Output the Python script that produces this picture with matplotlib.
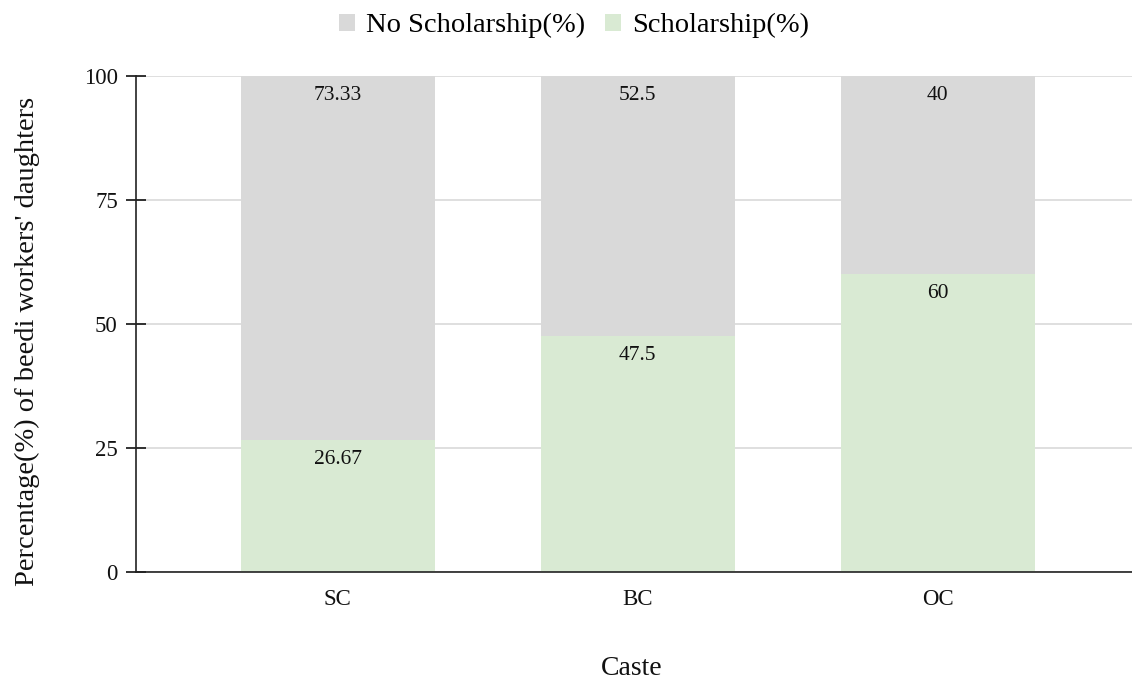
import matplotlib.pyplot as plt
import numpy as np

plt.rcParams['font.family'] = ['Liberation Serif', 'DejaVu Serif']

castes = ['SC', 'BC', 'OC']
scholarship = [26.67, 47.5, 60]
no_scholarship = [73.33, 52.5, 40]

green = '#d9ead3'
grey = '#d9d9d9'

fig = plt.figure(figsize=(11.32, 6.79), dpi=100)
ax = fig.add_axes([0.120, 0.1576, 0.880, 0.7305])

x = np.arange(len(castes))
w = 0.647
b1 = ax.bar(x, scholarship, w, color=green, label='Scholarship(%)', zorder=2)
b2 = ax.bar(x, no_scholarship, w, bottom=scholarship, color=grey,
            label='No Scholarship(%)', zorder=2)

# value labels just under the top of each segment
for bars, vals, base in [(b1, scholarship, [0] * 3), (b2, no_scholarship, scholarship)]:
    for xi, v, b in zip(x, vals, base):
        ax.annotate(f'{v:g}', (xi, b + v), xytext=(0, -14), textcoords='offset points',
                    ha='center', va='center', fontsize=15.5, color='#111111', zorder=3)

ax.set_xlim(-0.673, 2.647)
ax.set_ylim(0, 100)
ax.set_yticks([0, 25, 50, 75, 100])
ax.set_xticks(x)
ax.set_xticklabels(castes)
ax.tick_params(axis='both', labelsize=16.5, colors='#111111')
ax.tick_params(axis='y', direction='inout', length=14, width=1.2, pad=6)
ax.tick_params(axis='x', length=0, pad=12)
ax.yaxis.grid(True, color='#d9d9d9', linewidth=1.2, zorder=0)
for s in ['top', 'right']:
    ax.spines[s].set_visible(False)
ax.spines['left'].set_color('#222222')
ax.spines['bottom'].set_color('#222222')
ax.spines['left'].set_linewidth(1.2)
ax.spines['bottom'].set_linewidth(1.2)

ax.set_xlabel('Caste', fontsize=20, color='#111111')
ax.xaxis.set_label_coords(0.498, -0.195)
ax.xaxis.label.set_va('center')
ax.set_ylabel("Percentage(%) of beedi workers' daughters", fontsize=20.5,
              color='#111111')
ax.yaxis.set_label_coords(-0.109, 0.464)
ax.yaxis.label.set_va('center')

handles = [b2, b1]
fig.legend(handles, [h.get_label() for h in handles], loc='center',
           bbox_to_anchor=(0.507, 0.962), ncol=2, frameon=False, fontsize=20.5,
           handlelength=0.55, handleheight=0.55, handletextpad=0.4, columnspacing=0.7)

fig.savefig('out.png', dpi=100)
